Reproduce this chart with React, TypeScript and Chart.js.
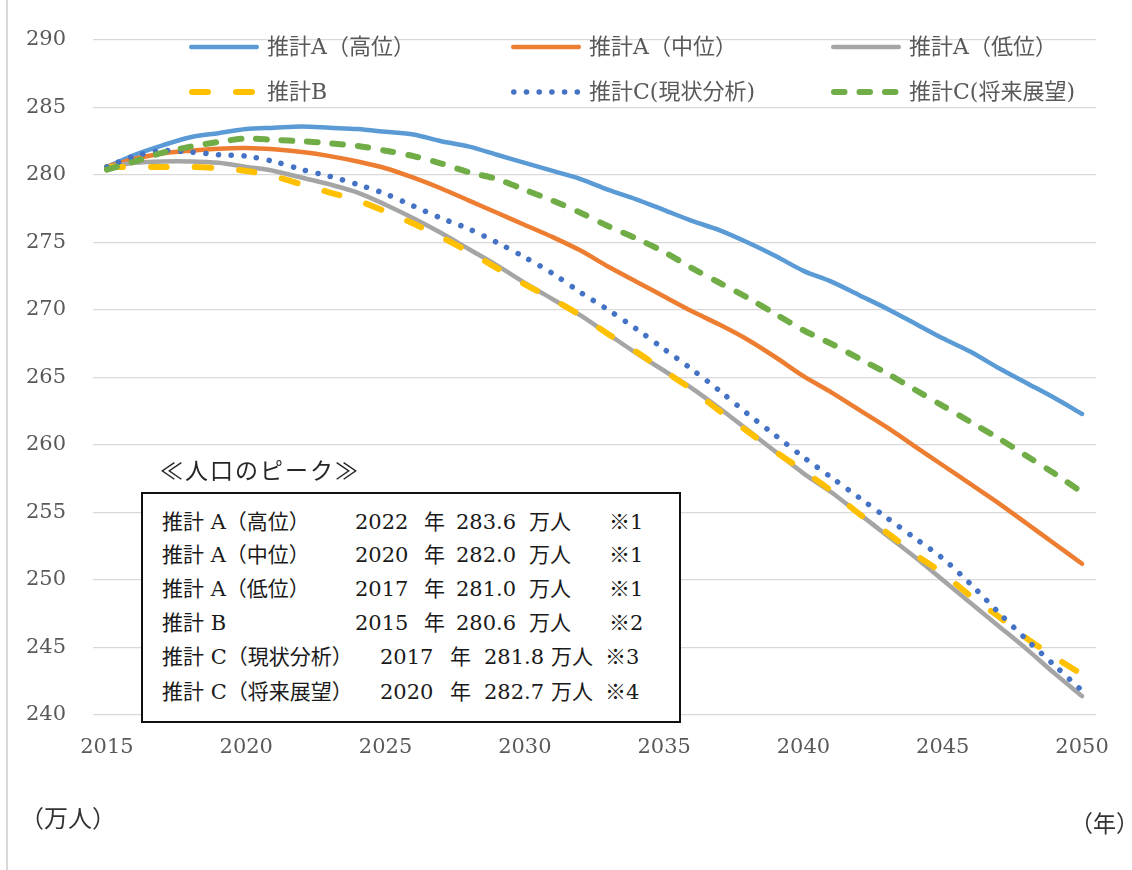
import React, { useEffect, useRef } from "react";
import { Chart, registerables } from "chart.js";

Chart.register(...registerables);

const years = [
  "2015", "2016", "2017", "2018", "2019", "2020", "2021", "2022", "2023", "2024",
  "2025", "2026", "2027", "2028", "2029", "2030", "2031", "2032", "2033", "2034",
  "2035", "2036", "2037", "2038", "2039", "2040", "2041", "2042", "2043", "2044",
  "2045", "2046", "2047", "2048", "2049", "2050",
];
const xTickLabels = ["2015", "2020", "2025", "2030", "2035", "2040", "2045", "2050"];

const seriesLabels = [
  "推計A（高位）",
  "推計A（中位）",
  "推計A（低位）",
  "推計B",
  "推計C(現状分析)",
  "推計C(将来展望)",
];

const estimateAHigh = [
  280.6, 281.5, 282.2, 282.8, 283.1, 283.4, 283.5, 283.6, 283.5, 283.4,
  283.2, 283.0, 282.5, 282.1, 281.5, 280.9, 280.3, 279.7, 278.9, 278.2,
  277.4, 276.6, 275.9, 275.0, 274.0, 272.9, 272.1, 271.1, 270.1, 269.0,
  267.9, 266.9, 265.7, 264.6, 263.5, 262.3,
];
const estimateAMid = [
  280.6, 281.2, 281.6, 281.8, 281.95, 282.0, 281.9, 281.7, 281.4, 281.0,
  280.5, 279.8, 279.0, 278.1, 277.2, 276.3, 275.4, 274.4, 273.2, 272.1,
  271.0, 269.9, 268.9, 267.8, 266.5, 265.1, 263.9, 262.6, 261.3, 259.9,
  258.5, 257.1, 255.7, 254.2, 252.7, 251.2,
];
const estimateALow = [
  280.6, 280.9, 281.0, 281.0, 280.9, 280.6, 280.3, 279.8, 279.3, 278.7,
  277.8, 276.8, 275.7, 274.5, 273.3, 272.0, 270.8, 269.6, 268.2, 266.8,
  265.5, 264.2, 262.7, 261.1, 259.5, 257.9, 256.5, 254.9, 253.3, 251.7,
  250.0, 248.3, 246.6, 244.9, 243.1, 241.4,
];
const estimateB = [
  280.6, 280.6, 280.6, 280.6, 280.5, 280.3, 279.9, 279.3, 278.7, 278.1,
  277.3, 276.4, 275.4, 274.3, 273.1, 271.9, 270.8, 269.6, 268.2, 266.9,
  265.5, 264.1, 262.5, 261.0, 259.5, 258.1, 256.6, 254.9, 253.5, 251.9,
  250.5, 248.8, 247.3, 245.7, 244.3, 243.0,
];
const estimateCCurrent = [
  280.6, 281.4, 281.8, 281.7, 281.5, 281.4, 281.0, 280.4, 279.9, 279.3,
  278.6, 277.7, 276.8, 276.0, 275.0, 273.9, 272.7, 271.3, 270.0, 268.6,
  267.1, 265.6, 264.0, 262.3, 260.7, 259.1, 257.6, 256.1, 254.6, 253.1,
  251.6, 249.7, 247.6, 245.6, 243.7, 241.8,
];
const estimateCFuture = [
  280.4, 281.0, 281.65, 282.1, 282.45, 282.7, 282.6, 282.5, 282.35, 282.15,
  281.8, 281.4, 280.85, 280.2, 279.7, 278.9, 278.1, 277.2, 276.2, 275.3,
  274.3, 273.1, 272.0, 270.9, 269.7, 268.5, 267.5, 266.4, 265.3, 264.1,
  262.9, 261.7, 260.5, 259.2, 257.9, 256.5,
];

const peakLabels = [
  "推計 A（高位）",
  "推計 A（中位）",
  "推計 A（低位）",
  "推計 B",
  "推計 C（現状分析）",
  "推計 C（将来展望）",
];
const peakYears = ["2022", "2020", "2017", "2015", "2017", "2020"];
const peakValues = ["283.6", "282.0", "281.0", "280.6", "281.8", "282.7"];
const peakNotes = ["※1", "※1", "※1", "※2", "※3", "※4"];

const SERIF = "'DejaVu Serif', 'Noto Sans CJK JP', serif";
const GOTHIC = "'Noto Sans CJK JP', sans-serif";

const insideLegend = {
  id: "insideLegend",
  afterDraw(chart: any) {
    const ctx = chart.ctx as CanvasRenderingContext2D;
    const cols = [189, 511, 831];
    const rows = [47, 92];
    chart.data.datasets.forEach((ds: any, i: number) => {
      const x = cols[i % 3];
      const y = rows[Math.floor(i / 3)];
      const w = ds.borderWidth;
      ctx.save();
      ctx.strokeStyle = ds.borderColor;
      ctx.lineWidth = w;
      ctx.lineCap = "round";
      ctx.setLineDash(ds.borderDash || []);
      ctx.beginPath();
      ctx.moveTo(x + w / 2, y);
      ctx.lineTo(x + 70 - w / 2, y);
      ctx.stroke();
      ctx.setLineDash([]);
      ctx.fillStyle = "#595959";
      ctx.font = `22px ${SERIF}`;
      ctx.textBaseline = "middle";
      ctx.textAlign = "left";
      ctx.fillText(ds.label, x + 78, y + 1);
      ctx.restore();
    });
  },
};

export default function App() {
  const canvasRef = useRef<HTMLCanvasElement | null>(null);

  useEffect(() => {
    if (!canvasRef.current) return;
    const series = [
      { data: estimateAHigh, color: "#5B9BD5", width: 4.5, dash: [] as number[] },
      { data: estimateAMid, color: "#ED7D31", width: 4.5, dash: [] as number[] },
      { data: estimateALow, color: "#A5A5A5", width: 4.5, dash: [] as number[] },
      { data: estimateB, color: "#FFC000", width: 6, dash: [16, 28] },
      { data: estimateCCurrent, color: "#4472C4", width: 5.5, dash: [0.1, 12.6] },
      { data: estimateCFuture, color: "#70AD47", width: 6, dash: [10.5, 15] },
    ];
    const chart = new Chart(canvasRef.current, {
      type: "line",
      data: {
        labels: years,
        datasets: series.map((s, i) => ({
          label: seriesLabels[i],
          data: s.data,
          borderColor: s.color,
          backgroundColor: s.color,
          borderWidth: s.width,
          borderDash: s.dash,
          borderCapStyle: "round",
          borderJoinStyle: "round",
          pointRadius: 0,
          pointHoverRadius: 0,
          tension: 0.3,
          fill: false,
          order: series.length - i,
        })),
      },
      options: {
        responsive: false,
        maintainAspectRatio: false,
        animation: false,
        devicePixelRatio: 1,
        layout: { padding: { left: 0, right: 36, top: 40, bottom: 0 } },
        plugins: {
          legend: { display: false },
          tooltip: { enabled: false },
        },
        scales: {
          x: {
            type: "category",
            offset: true,
            grid: { display: false, drawTicks: false },
            border: { display: false },
            ticks: {
              autoSkip: false,
              maxRotation: 0,
              minRotation: 0,
              padding: 20,
              color: "#595959",
              font: { family: SERIF, size: 21 },
              callback: (_v: any, idx: number) =>
                xTickLabels.includes(years[idx]) ? years[idx] : "",
            },
            afterFit: (scale: any) => {
              scale.height = 155;
            },
          },
          y: {
            min: 240,
            max: 290,
            grid: { color: "#d9d9d9", lineWidth: 1.3, drawTicks: false },
            border: { display: false },
            ticks: {
              stepSize: 5,
              padding: 27,
              color: "#595959",
              font: { family: SERIF, size: 21 },
            },
            afterFit: (scale: any) => {
              scale.width = 93;
            },
          },
        },
      },
      plugins: [insideLegend],
    } as any);
    return () => chart.destroy();
  }, []);

  const rowCenters = [521.7, 555, 588.5, 623, 656.7, 691.7];

  return (
    <div style={{ position: "absolute", left: 0, top: 0, width: 1132, height: 870, background: "#fff" }}>
      <canvas ref={canvasRef} width={1132} height={870} style={{ position: "absolute", left: 0, top: 0, width: 1132, height: 870 }} />
      <div style={{ position: "absolute", left: 6, top: 0, width: 2, height: 870, background: "#d9d9d9" }} />
      <div
        style={{
          position: "absolute",
          left: 160,
          top: 453,
          fontFamily: GOTHIC,
          fontSize: 23,
          letterSpacing: 2,
          lineHeight: "32px",
          color: "#262626",
          whiteSpace: "nowrap",
        }}
      >
        ≪人口のピーク≫
      </div>
      <div
        style={{
          position: "absolute",
          left: 141,
          top: 492,
          width: 540,
          height: 231,
          border: "2px solid #111",
          boxSizing: "border-box",
          background: "#fff",
          fontFamily: SERIF,
          fontSize: 21,
          color: "#1a1a1a",
        }}
      >
        {peakLabels.map((lab, i) => {
          const wide = i >= 4;
          const top = rowCenters[i] - 494 - 15;
          const cell = (x: number, text: string) => (
            <span style={{ position: "absolute", left: x - 143, top, lineHeight: "30px", whiteSpace: "nowrap" }}>{text}</span>
          );
          return (
            <React.Fragment key={i}>
              {cell(162, lab)}
              {cell(wide ? 380 : 355, peakYears[i])}
              {cell(wide ? 450 : 424, "年")}
              {cell(wide ? 484 : 456, peakValues[i])}
              {cell(wide ? 551 : 529, "万人")}
              {cell(wide ? 605 : 609, peakNotes[i])}
            </React.Fragment>
          );
        })}
      </div>
      <div
        style={{
          position: "absolute",
          left: 20,
          top: 801,
          fontFamily: GOTHIC,
          fontSize: 24,
          lineHeight: "32px",
          color: "#333",
          whiteSpace: "nowrap",
        }}
      >
        （万人）
      </div>
      <div
        style={{
          position: "absolute",
          left: 1070,
          top: 806,
          fontFamily: GOTHIC,
          fontSize: 23,
          lineHeight: "32px",
          color: "#333",
          whiteSpace: "nowrap",
        }}
      >
        （年）
      </div>
    </div>
  );
}
